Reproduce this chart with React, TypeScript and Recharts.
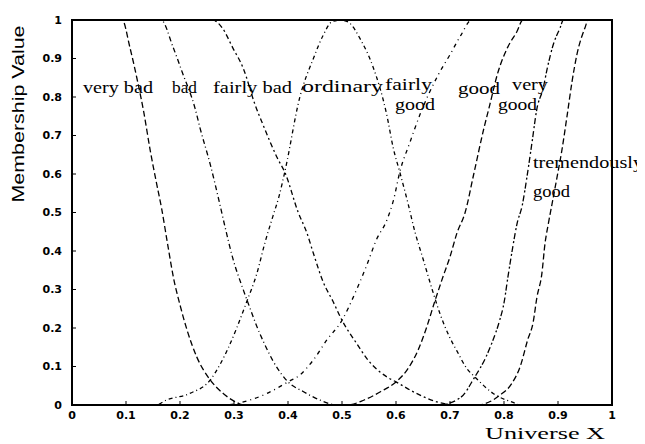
import React from "react";
import { LineChart, Line, XAxis, YAxis, ReferenceArea } from "recharts";

// axis ticks
const ticks = [0, 0.1, 0.2, 0.3, 0.4, 0.5, 0.6, 0.7, 0.8, 0.9, 1];
const tickLabels = ["0", "0.1", "0.2", "0.3", "0.4", "0.5", "0.6", "0.7", "0.8", "0.9", "1"];

// membership functions
const veryBadX = [0, 0.093, 0.107, 0.12, 0.133, 0.145, 0.156, 0.166, 0.178, 0.188, 0.2, 0.213, 0.231, 0.256, 0.28, 0.3, 0.32, 0.4];
const veryBadY = [1, 1, 0.93, 0.85, 0.76, 0.66, 0.58, 0.51, 0.41, 0.33, 0.26, 0.195, 0.125, 0.065, 0.03, 0.01, 0, 0];

const badX = [0, 0.165, 0.187, 0.204, 0.228, 0.237, 0.256, 0.274, 0.283, 0.298, 0.317, 0.33, 0.342, 0.356, 0.372, 0.4, 0.428, 0.459, 0.49, 0.55];
const badY = [1, 1, 0.93, 0.865, 0.77, 0.72, 0.625, 0.52, 0.465, 0.38, 0.3, 0.25, 0.205, 0.16, 0.115, 0.06, 0.035, 0.013, 0, 0];

const fairlyBadX = [0, 0.26, 0.278, 0.298, 0.317, 0.339, 0.354, 0.367, 0.38, 0.394, 0.419, 0.435, 0.447, 0.465, 0.483, 0.5, 0.527, 0.548, 0.583, 0.6, 0.638, 0.676, 0.71, 0.78];
const fairlyBadY = [1, 1, 0.98, 0.927, 0.875, 0.78, 0.727, 0.683, 0.642, 0.605, 0.5, 0.447, 0.394, 0.32, 0.27, 0.22, 0.16, 0.117, 0.073, 0.06, 0.03, 0.008, 0, 0];

const ordinaryX = [0.1, 0.155, 0.175, 0.218, 0.256, 0.274, 0.29, 0.305, 0.324, 0.342, 0.357, 0.372, 0.383, 0.394, 0.422, 0.447, 0.465, 0.481, 0.497, 0.511, 0.536, 0.557, 0.583, 0.595, 0.607, 0.622, 0.635, 0.65, 0.667, 0.682, 0.698, 0.713, 0.731, 0.746, 0.78, 0.82, 0.83, 0.9];
const ordinaryY = [0, 0, 0.013, 0.03, 0.065, 0.105, 0.15, 0.2, 0.27, 0.34, 0.42, 0.49, 0.54, 0.605, 0.8, 0.9, 0.96, 0.995, 1, 0.995, 0.945, 0.88, 0.753, 0.667, 0.605, 0.525, 0.45, 0.38, 0.3, 0.235, 0.18, 0.14, 0.095, 0.073, 0.03, 0.005, 0, 0];

const fairlyGoodX = [0.22, 0.28, 0.33, 0.361, 0.4, 0.422, 0.447, 0.472, 0.5, 0.524, 0.545, 0.564, 0.583, 0.595, 0.607, 0.626, 0.644, 0.678, 0.7, 0.72, 0.74, 1];
const fairlyGoodY = [0, 0, 0.013, 0.03, 0.06, 0.078, 0.117, 0.169, 0.22, 0.29, 0.36, 0.43, 0.48, 0.53, 0.605, 0.683, 0.753, 0.857, 0.91, 0.96, 1, 1];

const goodX = [0.45, 0.51, 0.541, 0.572, 0.6, 0.62, 0.641, 0.657, 0.672, 0.687, 0.7, 0.713, 0.728, 0.744, 0.763, 0.772, 0.789, 0.806, 0.824, 0.835, 1];
const goodY = [0, 0, 0.013, 0.035, 0.06, 0.09, 0.143, 0.203, 0.27, 0.333, 0.385, 0.447, 0.5, 0.6, 0.72, 0.77, 0.865, 0.927, 0.97, 1, 1];

const veryGoodX = [0.62, 0.68, 0.72, 0.746, 0.765, 0.78, 0.792, 0.8, 0.807, 0.815, 0.824, 0.834, 0.843, 0.852, 0.861, 0.872, 0.881, 0.891, 0.904, 0.91, 1];
const veryGoodY = [0, 0, 0.02, 0.073, 0.12, 0.17, 0.22, 0.265, 0.33, 0.4, 0.47, 0.52, 0.597, 0.683, 0.77, 0.82, 0.88, 0.935, 0.98, 1, 1];

const tremendouslyGoodX = [0.7, 0.75, 0.793, 0.815, 0.83, 0.844, 0.854, 0.861, 0.87, 0.876, 0.882, 0.89, 0.898, 0.907, 0.917, 0.926, 0.935, 0.95, 0.956, 1];
const tremendouslyGoodY = [0, 0, 0.026, 0.057, 0.1, 0.17, 0.215, 0.28, 0.34, 0.42, 0.47, 0.53, 0.59, 0.66, 0.753, 0.84, 0.91, 0.98, 1, 1];

const toPoints = (xs: number[], ys: number[]) => xs.map((x, i) => ({ x, y: ys[i] }));

const series = [
  { key: "veryBad", data: toPoints(veryBadX, veryBadY), dash: "6 3" },
  { key: "bad", data: toPoints(badX, badY), dash: "5 3 1 3" },
  { key: "fairlyBad", data: toPoints(fairlyBadX, fairlyBadY), dash: "2 3 5 3" },
  { key: "ordinary", data: toPoints(ordinaryX, ordinaryY), dash: "4 3 1 3" },
  { key: "fairlyGood", data: toPoints(fairlyGoodX, fairlyGoodY), dash: "4 4 1 4" },
  { key: "good", data: toPoints(goodX, goodY), dash: "6 3" },
  { key: "veryGood", data: toPoints(veryGoodX, veryGoodY), dash: "2 2 6 3" },
  { key: "tremendouslyGood", data: toPoints(tremendouslyGoodX, tremendouslyGoodY), dash: "6 3" },
];

// curve names written inside the plot (x, baseline, width)
const curveLabels = [
  { text: "very bad", x: 75, y: 85, w: 70 },
  { text: "bad", x: 164, y: 85, w: 25 },
  { text: "fairly bad", x: 205, y: 85, w: 79 },
  { text: "ordinary", x: 294, y: 84, w: 81 },
  { text: "fairly", x: 377, y: 82, w: 47 },
  { text: "good", x: 387, y: 102, w: 40 },
  { text: "good", x: 450, y: 86, w: 42 },
  { text: "very", x: 504, y: 82, w: 36 },
  { text: "good", x: 490, y: 102, w: 39 },
  { text: "tremendously", x: 525, y: 160, w: 110 },
  { text: "good", x: 525, y: 189, w: 37 },
];

const W = 637;
const H = 436;

const fmt = (v: number) => tickLabels[Math.round(v * 10)];
const tickStyle = { fontFamily: "DejaVu Sans", fontSize: 11, fontWeight: "bold", fill: "#000" };
const border = { stroke: "#000", strokeWidth: 2 };

export default function App() {
  return (
    <div style={{ position: "relative", width: W, height: H }}>
      <LineChart width={W} height={H} margin={{ top: 11, right: 32, bottom: 0, left: 0 }}>
        <XAxis
          type="number"
          dataKey="x"
          domain={[0, 1]}
          ticks={ticks}
          tickFormatter={fmt}
          height={39}
          tickSize={-4}
          tickMargin={10}
          tick={tickStyle}
          axisLine={border}
          tickLine={{ stroke: "#000" }}
        />
        <XAxis
          xAxisId="top"
          orientation="top"
          type="number"
          domain={[0, 1]}
          height={1}
          tick={false}
          tickLine={false}
          axisLine={false}
        />
        <YAxis
          type="number"
          domain={[0, 1]}
          ticks={ticks}
          tickFormatter={fmt}
          width={64}
          tickSize={-4}
          tickMargin={14}
          tick={tickStyle}
          axisLine={border}
          tickLine={{ stroke: "#000" }}
        />
        <YAxis
          yAxisId="right"
          orientation="right"
          type="number"
          domain={[0, 1]}
          ticks={ticks}
          width={1}
          tickSize={-4}
          tick={false}
          axisLine={false}
          tickLine={{ stroke: "#000" }}
        />
        <ReferenceArea
          x1={0}
          x2={1}
          y1={0}
          y2={1}
          fill="none"
          stroke="#000"
          strokeWidth={2}
          ifOverflow="visible"
        />
        {series.map((s) => (
          <Line
            key={s.key}
            data={s.data}
            dataKey="y"
            type="monotone"
            stroke="#000"
            strokeWidth={1.3}
            strokeDasharray={s.dash}
            dot={false}
            activeDot={false}
            isAnimationActive={false}
          />
        ))}
      </LineChart>
      <svg
        width={W}
        height={H}
        style={{ position: "absolute", left: 0, top: 0, pointerEvents: "none", overflow: "visible" }}
      >
        {curveLabels.map((l, i) => (
          <text
            key={i}
            x={l.x}
            y={l.y}
            textLength={l.w}
            lengthAdjust="spacingAndGlyphs"
            fontFamily="Liberation Serif"
            fontSize={17}
            fill="#000"
          >
            {l.text}
          </text>
        ))}
        <text
          x={477}
          y={431}
          textLength={120}
          lengthAdjust="spacingAndGlyphs"
          fontFamily="Liberation Serif"
          fontSize={17}
          fill="#000"
        >
          Universe X
        </text>
        <text
          transform="translate(16,106) rotate(-90)"
          textAnchor="middle"
          textLength={177}
          lengthAdjust="spacingAndGlyphs"
          fontFamily="Liberation Sans"
          fontSize={17}
          fill="#000"
        >
          Membership Value
        </text>
      </svg>
    </div>
  );
}
